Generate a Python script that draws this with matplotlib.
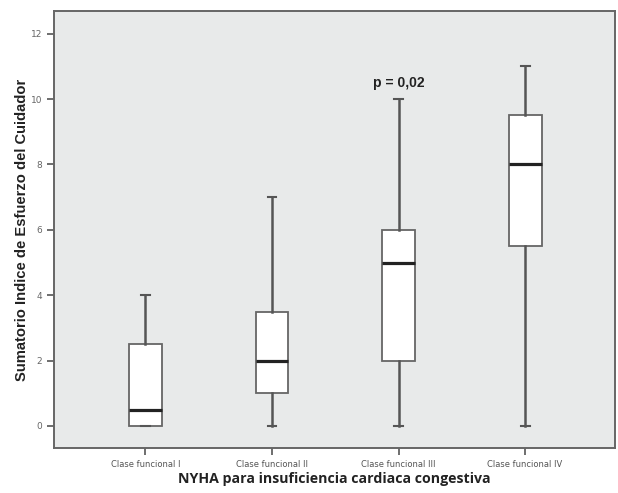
import matplotlib
matplotlib.use("Agg")
import matplotlib.pyplot as plt

# Values
categories = ["Clase funcional I", "Clase funcional II", "Clase funcional III", "Clase funcional IV"]
whisker_low = [0, 0, 0, 0]
q1 = [0, 1, 2, 5.5]
median = [0.5, 2, 5, 8]
q3 = [2.5, 3.5, 6, 9.5]
whisker_high = [4, 7, 10, 11]
y_ticks = [0, 2, 4, 6, 8, 10, 12]

stats = []
for i, name in enumerate(categories):
    stats.append({
        "label": name,
        "whislo": whisker_low[i],
        "q1": q1[i],
        "med": median[i],
        "q3": q3[i],
        "whishi": whisker_high[i],
        "fliers": [],
    })

fig = plt.figure(figsize=(6.18, 4.93), dpi=100)
ax = fig.add_axes([0.0874, 0.0913, 0.9076, 0.8867])
ax.set_facecolor("#e8eaea")

positions = list(range(1, len(categories) + 1))
ax.bxp(stats, positions=positions, widths=0.26, patch_artist=True,
       boxprops=dict(facecolor="white", edgecolor="#666666", linewidth=1.3),
       medianprops=dict(color="#222222", linewidth=2.3),
       whiskerprops=dict(color="#555555", linewidth=1.8),
       capprops=dict(color="#555555", linewidth=1.5),
       capwidths=0.07)

ax.set_xlim(0.277, 4.71)
ax.set_ylim(-0.673, 12.70)
ax.set_yticks(y_ticks)
ax.set_yticklabels([str(t) for t in y_ticks], fontsize=6.5, color="#666666")
ax.set_xticks(positions)
ax.set_xticklabels(categories, fontsize=6, color="#555555")
ax.tick_params(axis="both", direction="out", length=5, width=1.2, color="#555555")

for side in ["left", "bottom", "top", "right"]:
    ax.spines[side].set_color("#666666")
    ax.spines[side].set_linewidth(1.4)

ax.set_ylabel("Sumatorio Indice de Esfuerzo del Cuidador", fontsize=10.6,
              fontweight="bold", family="Liberation Sans", color="#222222", labelpad=1)
ax.set_xlabel("NYHA para insuficiencia cardiaca congestiva", fontsize=10.2,
              fontweight="bold", family="Open Sans", color="#222222", labelpad=2)

ax.text(3, 10.5, "p = 0,02", ha="center", va="center", fontsize=10,
        fontweight="bold", family="Liberation Sans", color="#222222")

fig.savefig("out.png", dpi=100)
